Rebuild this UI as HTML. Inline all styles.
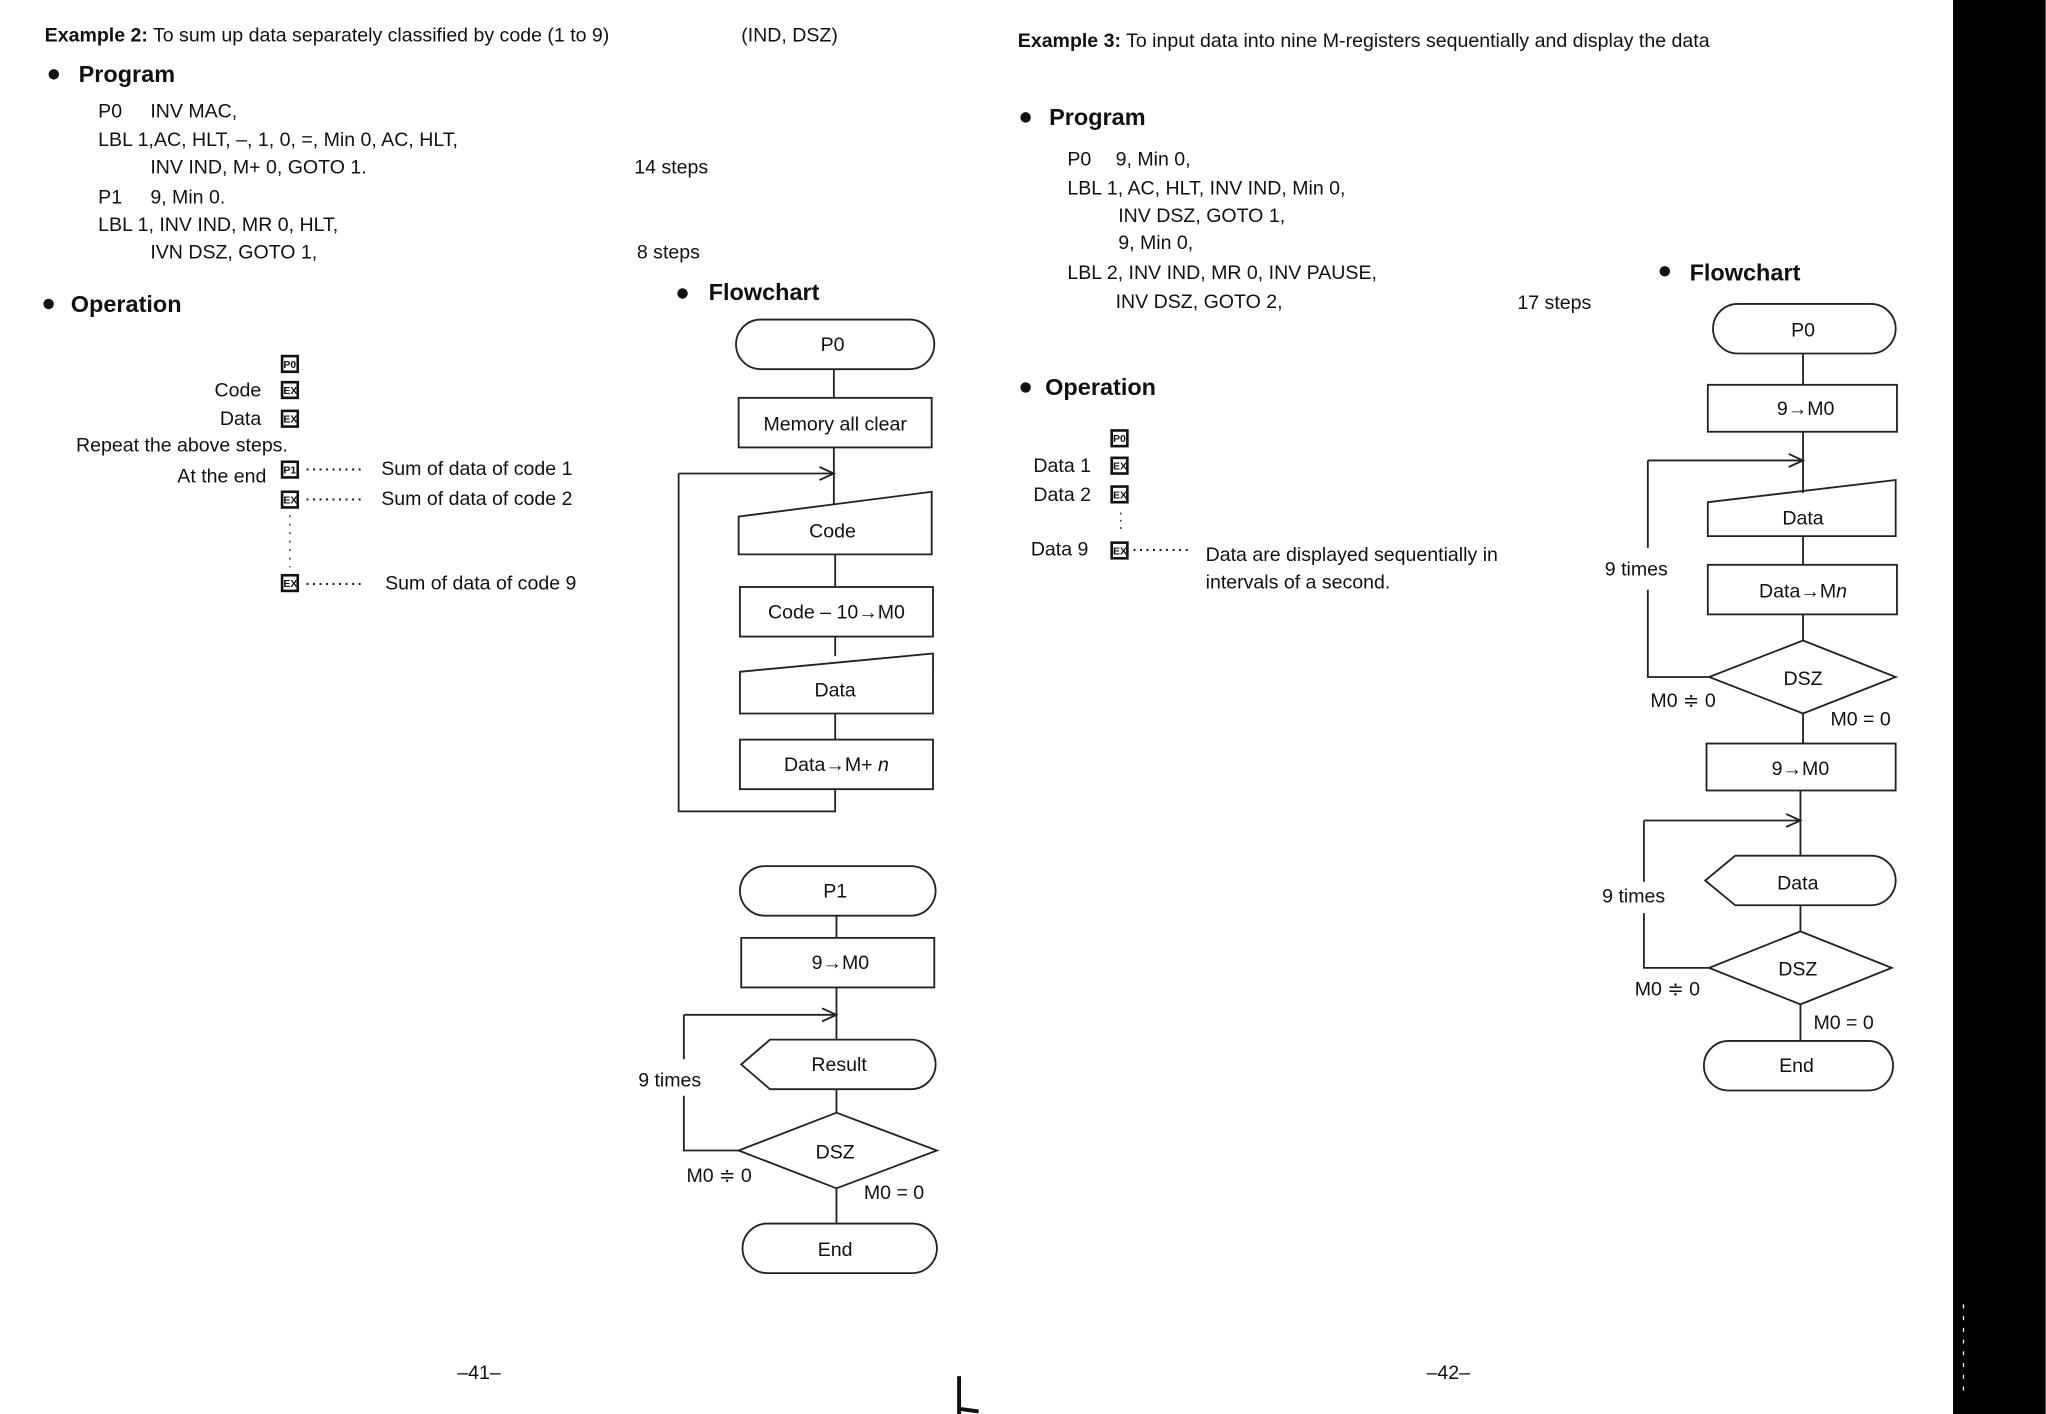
<!DOCTYPE html>
<html><head><meta charset="utf-8"><style>
html,body{margin:0;padding:0;background:#fff;}
svg{display:block;}
text{font-family:"Liberation Sans",sans-serif;fill:#111;}
.t{font-size:15px;}
.h{font-size:18px;font-weight:bold;}
.s{fill:none;stroke:#222;stroke-width:1.4;}
.kb{fill:none;stroke:#111;stroke-width:2;}
.k{font-size:8px;font-weight:bold;}
</style></head><body>
<svg width="2046" height="1414" viewBox="0 0 1568 1084" xmlns="http://www.w3.org/2000/svg">
<rect x="0" y="0" width="1568" height="1084" fill="#fff"/>
<rect x="1497" y="0" width="71" height="1084" fill="#000"/>
<line x1="1505" y1="1000" x2="1505" y2="1070" stroke="#fff" stroke-width="1" stroke-dasharray="3,6"/>

<!-- LEFT PAGE -->
<text x="34" y="32" class="t"><tspan font-weight="bold">Example 2:</tspan> To sum up data separately classified by code (1 to 9)</text>
<text x="568" y="32" class="t">(IND, DSZ)</text>
<circle cx="41" cy="57" r="4" fill="#111"/>
<text x="60" y="63" class="h">Program</text>
<text x="75" y="90" class="t">P0</text><text x="115" y="90" class="t">INV MAC,</text>
<text x="75" y="112" class="t">LBL 1,AC, HLT, –, 1, 0, =, Min 0, AC, HLT,</text>
<text x="115" y="133" class="t">INV IND, M+ 0, GOTO 1.</text>
<text x="486" y="133" class="t">14 steps</text>
<text x="75" y="156" class="t">P1</text><text x="115" y="156" class="t">9, Min 0.</text>
<text x="75" y="177" class="t">LBL 1, INV IND, MR 0, HLT,</text>
<text x="115" y="198" class="t">IVN DSZ, GOTO 1,</text>
<text x="488" y="198" class="t">8 steps</text>
<circle cx="37" cy="233" r="4" fill="#111"/>
<text x="54" y="239" class="h">Operation</text>
<circle cx="523" cy="225" r="4" fill="#111"/>
<text x="543" y="230" class="h">Flowchart</text>

<g class="k">
<rect x="216" y="273" width="12" height="12" class="kb"/><text x="217" y="282">P0</text>
<rect x="216" y="293" width="12" height="12" class="kb"/><text x="217" y="302">EX</text>
<rect x="216" y="315" width="12" height="12" class="kb"/><text x="217" y="324">EX</text>
<rect x="216" y="354" width="12" height="12" class="kb"/><text x="217" y="363">P1</text>
<rect x="216" y="377" width="12" height="12" class="kb"/><text x="217" y="386">EX</text>
<rect x="216" y="441" width="12" height="12" class="kb"/><text x="217" y="450">EX</text>
</g>
<text x="200" y="304" class="t" text-anchor="end">Code</text>
<text x="200" y="326" class="t" text-anchor="end">Data</text>
<text x="58" y="346" class="t">Repeat the above steps.</text>
<text x="204" y="370" class="t" text-anchor="end">At the end</text>
<text x="233" y="364" class="t">·········</text><text x="292" y="364" class="t">Sum of data of code 1</text>
<text x="233" y="387" class="t">·········</text><text x="292" y="387" class="t">Sum of data of code 2</text>
<line x1="222" y1="395" x2="222" y2="435" stroke="#222" stroke-dasharray="1.5,5"/>
<text x="233" y="452" class="t">·········</text><text x="295" y="452" class="t">Sum of data of code 9</text>

<!-- flowchart 1 -->
<g>
<rect x="564" y="245" width="152" height="38" rx="19" class="s"/>
<text x="638" y="269" class="t" text-anchor="middle">P0</text>
<line x1="639" y1="283" x2="639" y2="305" class="s"/>
<rect x="566" y="305" width="148" height="38" class="s"/>
<text x="640" y="330" class="t" text-anchor="middle">Memory all clear</text>
<line x1="639" y1="343" x2="639" y2="387" class="s"/>
<polyline points="520,363 639,363" class="s"/>
<polyline points="628,358 639,363 628,368" class="s"/>
<polygon points="566,396 714,377 714,425 566,425" class="s"/>
<text x="638" y="412" class="t" text-anchor="middle">Code</text>
<line x1="640" y1="425" x2="640" y2="450" class="s"/>
<rect x="567" y="450" width="148" height="38" class="s"/>
<text x="641" y="474" class="t" text-anchor="middle">Code – 10→M0</text>
<line x1="640" y1="488" x2="640" y2="503" class="s"/>
<polygon points="567,515 715,501 715,547 567,547" class="s"/>
<text x="640" y="534" class="t" text-anchor="middle">Data</text>
<line x1="640" y1="547" x2="640" y2="567" class="s"/>
<rect x="567" y="567" width="148" height="38" class="s"/>
<text x="641" y="591" class="t" text-anchor="middle">Data→M+ <tspan font-style="italic">n</tspan></text>
<polyline points="640,605 640,622 520,622 520,363" class="s"/>
</g>

<!-- flowchart 2 -->
<g>
<rect x="567" y="664" width="150" height="38" rx="19" class="s"/>
<text x="640" y="688" class="t" text-anchor="middle">P1</text>
<line x1="641" y1="702" x2="641" y2="719" class="s"/>
<rect x="568" y="719" width="148" height="38" class="s"/>
<text x="644" y="743" class="t" text-anchor="middle">9→M0</text>
<line x1="641" y1="757" x2="641" y2="797" class="s"/>
<polyline points="524,778 641,778" class="s"/>
<polyline points="630,773 641,778 630,783" class="s"/>
<path d="M590,797 H698 A19,19 0 0 1 698,835 H590 L568,816 Z" class="s"/>
<text x="643" y="821" class="t" text-anchor="middle">Result</text>
<line x1="641" y1="835" x2="641" y2="853" class="s"/>
<polygon points="641,853 718,882 641,911 566,882" class="s"/>
<text x="640" y="888" class="t" text-anchor="middle">DSZ</text>
<polyline points="566,882 524,882 524,840" class="s"/>
<line x1="524" y1="778" x2="524" y2="812" class="s"/>
<text x="489" y="833" class="t">9 times</text>
<text x="526" y="906" class="t">M0 ≑ 0</text>
<text x="662" y="919" class="t">M0 = 0</text>
<line x1="641" y1="911" x2="641" y2="938" class="s"/>
<rect x="569" y="938" width="149" height="38" rx="19" class="s"/>
<text x="640" y="963" class="t" text-anchor="middle">End</text>
</g>
<text x="367" y="1057" class="t" text-anchor="middle">–41–</text>
<text x="1110" y="1057" class="t" text-anchor="middle">–42–</text>
<line x1="735" y1="1055" x2="735" y2="1084" stroke="#111" stroke-width="3"/>
<line x1="735" y1="1080" x2="750" y2="1082" stroke="#111" stroke-width="3"/>

<!-- RIGHT PAGE -->
<text x="780" y="36" class="t"><tspan font-weight="bold">Example 3:</tspan> To input data into nine M-registers sequentially and display the data</text>
<circle cx="786" cy="90" r="4" fill="#111"/>
<text x="804" y="96" class="h">Program</text>
<text x="818" y="127" class="t">P0</text><text x="855" y="127" class="t">9, Min 0,</text>
<text x="818" y="149" class="t">LBL 1, AC, HLT, INV IND, Min 0,</text>
<text x="857" y="170" class="t">INV DSZ, GOTO 1,</text>
<text x="857" y="191" class="t">9, Min 0,</text>
<text x="818" y="214" class="t">LBL 2, INV IND, MR 0, INV PAUSE,</text>
<text x="855" y="236" class="t">INV DSZ, GOTO 2,</text>
<text x="1163" y="237" class="t">17 steps</text>
<circle cx="786" cy="297" r="4" fill="#111"/>
<text x="801" y="303" class="h">Operation</text>
<circle cx="1276" cy="208" r="4" fill="#111"/>
<text x="1295" y="215" class="h">Flowchart</text>
<g class="k">
<rect x="852" y="330" width="12" height="12" class="kb"/><text x="853" y="339">P0</text>
<rect x="852" y="351" width="12" height="12" class="kb"/><text x="853" y="360">EX</text>
<rect x="852" y="373" width="12" height="12" class="kb"/><text x="853" y="382">EX</text>
<rect x="852" y="416" width="12" height="12" class="kb"/><text x="853" y="425">EX</text>
</g>
<text x="792" y="362" class="t">Data 1</text>
<text x="792" y="384" class="t">Data 2</text>
<line x1="859" y1="393" x2="859" y2="408" stroke="#222" stroke-dasharray="1.5,4"/>
<text x="790" y="426" class="t">Data 9</text>
<text x="867" y="426" class="t">·········</text>
<text x="924" y="430" class="t">Data are displayed sequentially in</text>
<text x="924" y="451" class="t">intervals of a second.</text>

<g>
<rect x="1313" y="233" width="140" height="38" rx="19" class="s"/>
<text x="1382" y="258" class="t" text-anchor="middle">P0</text>
<line x1="1382" y1="271" x2="1382" y2="295" class="s"/>
<rect x="1309" y="295" width="145" height="36" class="s"/>
<text x="1384" y="318" class="t" text-anchor="middle">9→M0</text>
<line x1="1382" y1="331" x2="1382" y2="378" class="s"/>
<polyline points="1263,353 1382,353" class="s"/>
<polyline points="1371,348 1382,353 1371,358" class="s"/>
<polygon points="1309,385 1453,368 1453,411 1309,411" class="s"/>
<text x="1382" y="402" class="t" text-anchor="middle">Data</text>
<line x1="1382" y1="411" x2="1382" y2="433" class="s"/>
<rect x="1309" y="433" width="145" height="38" class="s"/>
<text x="1382" y="458" class="t" text-anchor="middle">Data→M<tspan font-style="italic">n</tspan></text>
<line x1="1382" y1="471" x2="1382" y2="491" class="s"/>
<polygon points="1382,491 1453,519 1382,547 1310,519" class="s"/>
<text x="1382" y="525" class="t" text-anchor="middle">DSZ</text>
<polyline points="1310,519 1263,519 1263,452" class="s"/>
<line x1="1263" y1="353" x2="1263" y2="420" class="s"/>
<text x="1230" y="441" class="t">9 times</text>
<text x="1265" y="542" class="t">M0 ≑ 0</text>
<text x="1403" y="556" class="t">M0 = 0</text>
<line x1="1382" y1="547" x2="1382" y2="570" class="s"/>
<rect x="1308" y="570" width="145" height="36" class="s"/>
<text x="1380" y="594" class="t" text-anchor="middle">9→M0</text>
<line x1="1380" y1="606" x2="1380" y2="656" class="s"/>
<polyline points="1260,629 1380,629" class="s"/>
<polyline points="1369,624 1380,629 1369,634" class="s"/>
<path d="M1330,656 H1434 A19,19 0 0 1 1434,694 H1330 L1307,675 Z" class="s"/>
<text x="1378" y="682" class="t" text-anchor="middle">Data</text>
<line x1="1380" y1="694" x2="1380" y2="714" class="s"/>
<polygon points="1380,714 1450,742 1380,770 1310,742" class="s"/>
<text x="1378" y="748" class="t" text-anchor="middle">DSZ</text>
<polyline points="1310,742 1260,742 1260,700" class="s"/>
<line x1="1260" y1="629" x2="1260" y2="676" class="s"/>
<text x="1228" y="692" class="t">9 times</text>
<text x="1253" y="763" class="t">M0 ≑ 0</text>
<text x="1390" y="789" class="t">M0 = 0</text>
<line x1="1380" y1="770" x2="1380" y2="798" class="s"/>
<rect x="1306" y="798" width="145" height="38" rx="19" class="s"/>
<text x="1377" y="822" class="t" text-anchor="middle">End</text>
</g>
</svg>
</body></html>
